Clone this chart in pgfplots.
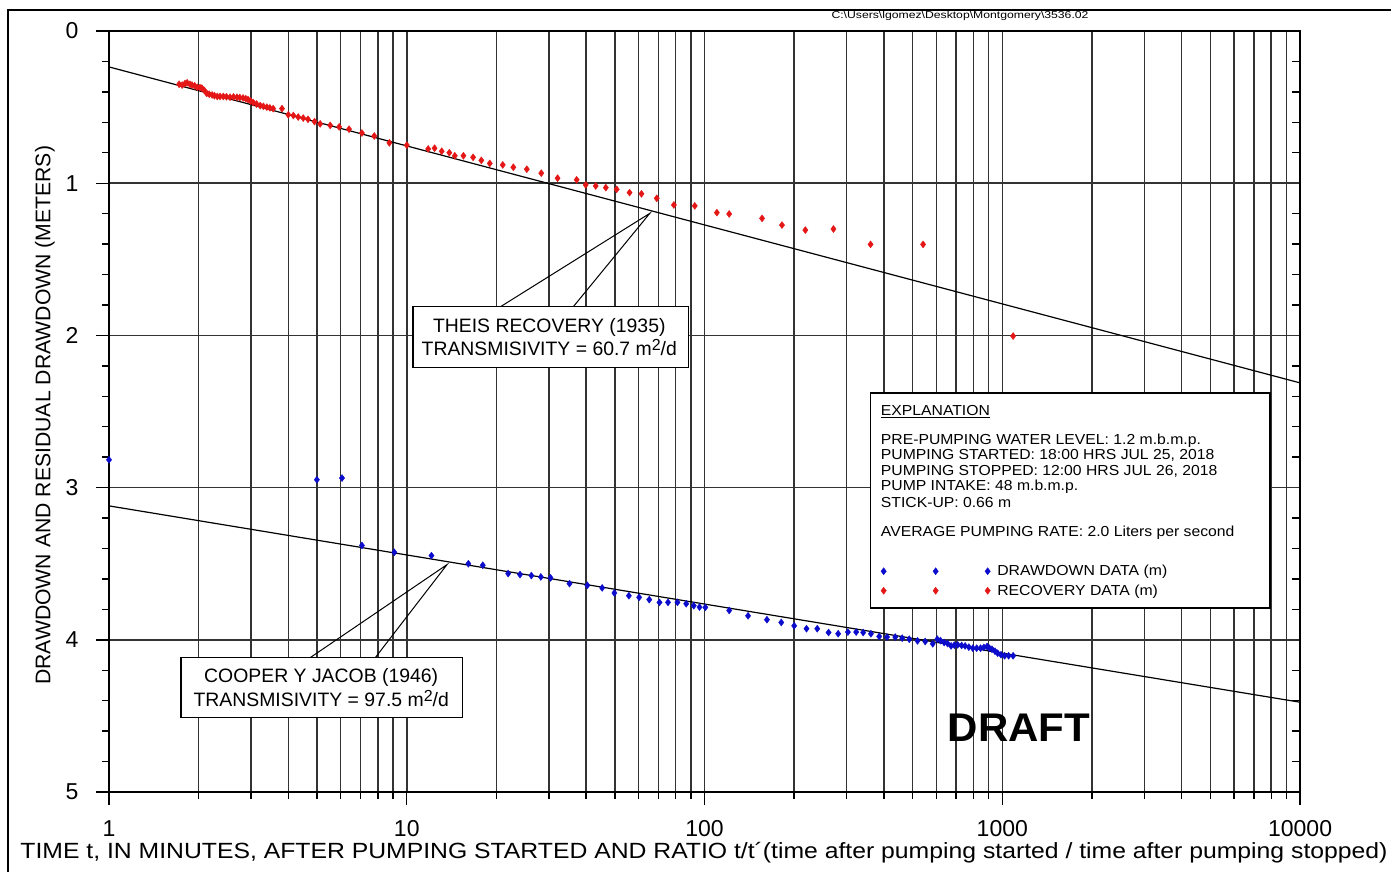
\documentclass[border=0pt]{standalone}
\usepackage{pgfplots}
\pgfplotsset{compat=1.18}
\usepackage{fontspec}
\setmainfont{Liberation Sans}
\definecolor{rdot}{RGB}{228,22,22}
\definecolor{bdot}{RGB}{12,12,205}
\newcommand{\sx}[2]{\scalebox{#1}[1]{#2}}
\newcommand{\sq}{\raisebox{0.28em}{\fontsize{16}{16}\selectfont 2}}
\pgfplotsset{threemarks/.style={legend image code/.code={\draw[##1] plot coordinates {(0pt,0pt) (52pt,0pt) (104pt,0pt)};}}}
\begin{document}
\begin{tikzpicture}
\useasboundingbox (0pt,0pt) rectangle (1391pt,871pt);
\begin{axis}[
 at={(109pt,79pt)}, anchor=south west, scale only axis, width=1191pt, height=761pt,
 xmode=log, xmin=1, xmax=10000, ymin=0, ymax=5, y dir=reverse,
 xtick={1,10,100,1000,10000}, xticklabels={1,10,100,1000,10000},
 minor xtick={2,3,4,5,6,7,8,9,20,30,40,50,60,70,80,90,200,300,400,500,600,700,800,900,2000,3000,4000,5000,6000,7000,8000,9000},
 ytick={0,1,2,3,4,5}, yticklabels={0,1,2,3,4,5},
 minor ytick={0.2,0.4,0.6,0.8,1.2,1.4,1.6,1.8,2.2,2.4,2.6,2.8,3.2,3.4,3.6,3.8,4.2,4.4,4.6,4.8},
 xmajorgrids, xminorgrids, ymajorgrids,
 major grid style={line width=1.5pt, black!80},
 minor grid style={line width=1.5pt, black!80},
 axis line style={line width=1.7pt},
 tick align=outside, xtick pos=lower, ytick pos=left,
 major tick length=13pt, minor tick length=7pt,
 tick style={line width=1.4pt, black},
 ticklabel style={font=\fontsize{23}{25}\selectfont},
 xticklabel style={yshift=-12pt},
 yticklabel style={xshift=-14pt},
 xlabel={\sx{1.125}{TIME t, IN MINUTES, AFTER PUMPING STARTED AND RATIO t/t´(time after pumping started / time after pumping stopped)}},
 ylabel={DRAWDOWN AND RESIDUAL DRAWDOWN (METERS)},
 xlabel style={at={(axis description cs:0.4995,-0.080)}, anchor=center, font=\fontsize{22}{24}\selectfont},
 ylabel style={at={(axis description cs:-0.0538,0.495)}, anchor=center, font=\fontsize{21.2}{23}\selectfont},
 clip=false,
 legend style={draw=none, fill=none, font=\fontsize{14.5}{15}\selectfont, at={(axis description cs:0.648,0.2773)}, anchor=west, row sep=3.5pt, inner sep=0pt,
   /tikz/every odd column/.append style={column sep=5pt}},
 legend cell align=left,
]
% fitted lines
\addplot[black, line width=1.2pt, forget plot] coordinates {(1,0.236) (10000,2.312)};
\addplot[black, line width=1.2pt, forget plot] coordinates {(1,3.12) (10000,4.41)};
% drawdown data
\addplot[only marks, mark=diamond*, mark size=3.5pt, color=bdot, threemarks] coordinates {
(1,2.817) (4.99,2.948) (6.06,2.937) (7.07,3.38) (9.08,3.425) (12.1,3.447) (16.1,3.50) (18.0,3.51)
(21.9,3.565) (24.0,3.571) (26.2,3.578) (28.2,3.587) (30.4,3.593) (35.2,3.631) (40.4,3.642) (45.3,3.659)
(49.8,3.692) (55.7,3.710) (60.3,3.721) (65.2,3.736) (70.6,3.754) (75.4,3.754) (81.1,3.754) (86.8,3.763)
(92.0,3.776) (96.2,3.785) (100.6,3.787) (121,3.807) (140,3.842) (162,3.868) (181,3.886) (200,3.908)
(220,3.927) (239,3.927) (261,3.952) (281,3.960) (303,3.949) (323,3.949) (341,3.952) (362,3.960)
(386,3.978) (410,3.982) (437,3.982) (461,3.989) (487,3.996) (519,4.007) (551,4.011) (584,4.026)
(605,3.996) (620,4.005) (638,4.018) (655,4.025) (673,4.040) (690,4.035) (708,4.033) (730,4.037)
(750,4.040) (772,4.048) (796,4.055) (820,4.055) (845,4.055) (867,4.050) (889,4.044) (905,4.055)
(923,4.062) (945,4.075) (965,4.088) (990,4.098) (1018,4.105) (1050,4.105) (1087,4.105)
};
\addlegendentry{\sx{1.09}{DRAWDOWN DATA (m)}}
% recovery data
\addplot[only marks, mark=diamond*, mark size=3.5pt, color=rdot, threemarks] coordinates {
(1.72,0.350) (1.76,0.355) (1.80,0.345) (1.83,0.340) (1.87,0.350) (1.90,0.355) (1.94,0.360) (1.98,0.370)
(2.02,0.372) (2.05,0.375) (2.09,0.390) (2.13,0.410) (2.17,0.415) (2.22,0.420) (2.26,0.425) (2.31,0.430)
(2.36,0.430) (2.42,0.430) (2.48,0.432) (2.55,0.435) (2.62,0.433) (2.69,0.435) (2.75,0.437) (2.82,0.440)
(2.88,0.445) (2.93,0.450) (2.99,0.460) (3.05,0.470) (3.13,0.480) (3.22,0.490) (3.30,0.495) (3.39,0.500)
(3.47,0.505) (3.56,0.510) (3.81,0.510) (4.0,0.550) (4.16,0.555) (4.32,0.565) (4.49,0.572) (4.66,0.580)
(4.9,0.595) (5.12,0.610) (5.53,0.620) (5.93,0.630) (6.40,0.645) (7.07,0.670) (7.78,0.690) (8.74,0.735)
(10.0,0.750) (11.8,0.775) (12.4,0.770) (13.1,0.790) (13.9,0.800) (14.5,0.820) (15.5,0.820) (16.7,0.830)
(17.8,0.850) (19.0,0.870) (21.0,0.880) (22.8,0.895) (25.3,0.908) (28.3,0.934) (32.1,0.967) (37.2,0.978)
(39.9,1.011) (43.1,1.018) (46.6,1.029) (50.7,1.040) (56.0,1.062) (61.4,1.070) (69.1,1.099) (78.9,1.143)
(92.7,1.149) (110,1.193) (121,1.202) (156,1.231) (182,1.275) (218,1.308) (271,1.301) (361,1.402)
(542,1.402) (1087,2.004)
};
\addlegendentry{\sx{1.09}{RECOVERY DATA (m)}}
% inward minor ticks on right side
\pgfplotsinvokeforeach{0.2,0.4,0.6,0.8,1.2,1.4,1.6,1.8,2.2,2.4,2.6,2.8,3.2,3.4,3.6,3.8,4.2,4.4,4.6,4.8}{
  \draw[line width=1.4pt] (axis cs:10000,#1) -- ++(-8pt,0pt);
}
% Theis annotation
\draw[black, line width=1pt] (axis cs:20.7,1.81) -- (axis cs:65.5,1.198) -- (axis cs:36.3,1.81);
\draw[black, line width=1.4pt, fill=white] (axis cs:10.5,1.81) rectangle (axis cs:88.4,2.21);
\node[font=\fontsize{19.4}{21}\selectfont, anchor=center] at (axis cs:30.1,1.945) {THEIS RECOVERY (1935)};
\node[font=\fontsize{19.4}{21}\selectfont, anchor=center] at (axis cs:30.1,2.080) {TRANSMISIVITY = 60.7 m\sq/d};
% Cooper-Jacob annotation
\draw[black, line width=1pt] (axis cs:4.74,4.117) -- (axis cs:13.65,3.506) -- (axis cs:7.84,4.117);
\draw[black, line width=1.4pt, fill=white] (axis cs:1.746,4.117) rectangle (axis cs:15.4,4.51);
\node[font=\fontsize{19.4}{21}\selectfont, anchor=center] at (axis cs:5.16,4.248) {COOPER Y JACOB (1946)};
\node[font=\fontsize{19.4}{21}\selectfont, anchor=center] at (axis cs:5.16,4.385) {TRANSMISIVITY = 97.5 m\sq/d};
% explanation box
\draw[black, line width=1.7pt, fill=white] (axis cs:361,2.377) rectangle (axis cs:7925,3.789);
\begin{scope}[every node/.style={anchor=west, inner sep=0pt, font=\fontsize{14.5}{15}\selectfont}]
\node at (axis cs:390.6,2.502) {\sx{1.085}{\underline{EXPLANATION}}};
\node at (axis cs:390.6,2.692) {\sx{1.085}{PRE-PUMPING WATER LEVEL: 1.2 m.b.m.p.}};
\node at (axis cs:390.6,2.790) {\sx{1.085}{PUMPING STARTED: 18:00 HRS JUL 25, 2018}};
\node at (axis cs:390.6,2.895) {\sx{1.085}{PUMPING STOPPED: 12:00 HRS JUL 26, 2018}};
\node at (axis cs:390.6,2.994) {\sx{1.085}{PUMP INTAKE: 48 m.b.m.p.}};
\node at (axis cs:390.6,3.099) {\sx{1.085}{STICK-UP: 0.66 m}};
\node at (axis cs:390.6,3.296) {\sx{1.085}{AVERAGE PUMPING RATE: 2.0 Liters per second}};
\end{scope}
% draft
\node[font=\fontsize{40}{42}\selectfont\bfseries] at (axis cs:1136.6,4.577) {\sx{1.05}{DRAFT}};
\end{axis}
\node[font=\fontsize{10}{11}\selectfont] at (960pt,855pt) {\sx{1.22}{C:\textbackslash Users\textbackslash lgomez\textbackslash Desktop\textbackslash Montgomery\textbackslash 3536.02}};
\draw[line width=2.5pt] (8pt,-20pt) -- (8pt,861pt) -- (1420pt,861pt);
\end{tikzpicture}
\end{document}
